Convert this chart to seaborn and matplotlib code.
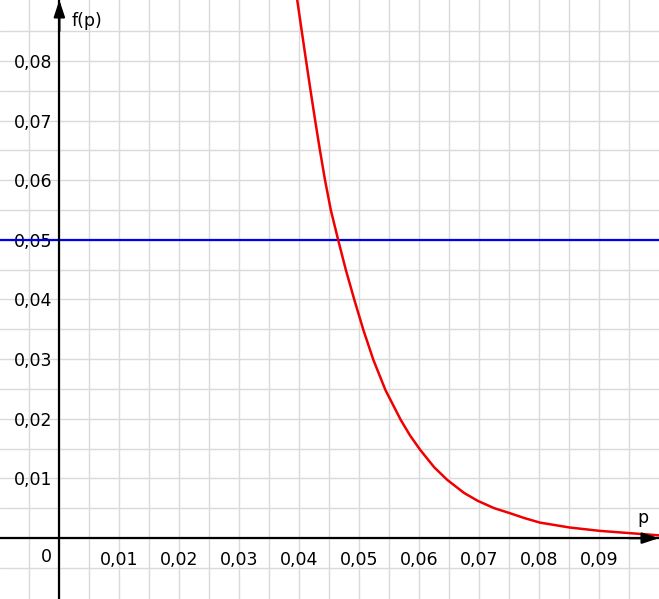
import numpy as np
import pandas as pd
import matplotlib
matplotlib.use("Agg")
import matplotlib.pyplot as plt
import seaborn as sns

sns.set_style("white")
plt.rcParams['font.family'] = ['DejaVu Sans']
plt.rcParams['text.color'] = 'black'

# Werte der Kurve f(p)
p_vals = [0.03967, 0.04040, 0.04113, 0.04188, 0.04265, 0.04345, 0.04430,
          0.04527, 0.04650, 0.04778, 0.04920, 0.05070, 0.05237, 0.05437,
          0.05693, 0.05850, 0.06018, 0.06250, 0.06468, 0.06750, 0.06978,
          0.07250, 0.07512, 0.07750, 0.08012, 0.08512, 0.09012, 0.09512,
          0.09995]
f_vals = [0.09017, 0.08514, 0.08012, 0.07509, 0.07007, 0.06504, 0.06002,
          0.05499, 0.04997, 0.04494, 0.03992, 0.03489, 0.02987, 0.02484,
          0.01982, 0.01718, 0.01479, 0.01189, 0.00977, 0.00757, 0.00625,
          0.00503, 0.00419, 0.00338, 0.00261, 0.00178, 0.00122, 0.00084,
          0.00047]
schwelle = 0.05

x_ticks = [0.01, 0.02, 0.03, 0.04, 0.05, 0.06, 0.07, 0.08, 0.09]
y_ticks = [0.01, 0.02, 0.03, 0.04, 0.05, 0.06, 0.07, 0.08]

df = pd.DataFrame({"p": p_vals, "f": f_vals})

fig = plt.figure(figsize=(6.59, 5.99), dpi=100)
ax = fig.add_axes([0, 0, 1, 1])

ax.set_xlim(-0.0099, 0.1)
ax.set_ylim(-0.0102, 0.0902)

# Gitter alle 0,005
ax.set_xticks(np.arange(-0.005, 0.1, 0.005), minor=True)
ax.set_yticks(np.arange(-0.005, 0.09, 0.005), minor=True)
ax.grid(which="both", color="#dadada", lw=1.0)
ax.tick_params(which="minor", length=0)
ax.set_axisbelow(True)

ax.axhline(schwelle, color="#0000f0", lw=1.6, zorder=3)
sns.lineplot(data=df, x="p", y="f", color="#f00000", lw=1.8, ax=ax, zorder=4)

# Achsen durch den Ursprung
for s in ["top", "right"]:
    ax.spines[s].set_visible(False)
for s in ["left", "bottom"]:
    ax.spines[s].set_position(("data", 0))
    ax.spines[s].set_linewidth(1.6)
    ax.spines[s].set_color("black")
    ax.spines[s].set_zorder(5)

ax.set_xticks(x_ticks)
ax.set_xticklabels([f"{v:.2f}".replace(".", ",") for v in x_ticks])
ax.set_yticks(y_ticks)
ax.set_yticklabels([f"{v:.2f}".replace(".", ",") for v in y_ticks])
ax.tick_params(which="major", direction="inout", length=6, width=1.6,
               labelsize=12.5, color="black", labelcolor="black")
ax.tick_params(axis="x", pad=6)
ax.tick_params(axis="y", pad=2)
ax.set_xlabel("")
ax.set_ylabel("")

# Pfeilspitzen
pfeil = dict(arrowstyle="-|>,head_length=1.0,head_width=0.33",
             color="black", lw=1.6, shrinkA=0, shrinkB=0)
ax.annotate("", xy=(0.1, 0), xytext=(0.095, 0), arrowprops=pfeil,
            annotation_clip=False, zorder=6)
ax.annotate("", xy=(0, 0.0902), xytext=(0, 0.085), arrowprops=pfeil,
            annotation_clip=False, zorder=6)

ax.text(0.0021, 0.0867, "f(p)", fontsize=12.5, color="black", ha="left", va="center")
ax.text(0.0974, 0.0034, "p", fontsize=12.5, color="black", ha="center", va="center")
ax.text(-0.0021, -0.0032, "0", fontsize=12.5, color="black", ha="center", va="center")

fig.savefig("out.png", dpi=100)
